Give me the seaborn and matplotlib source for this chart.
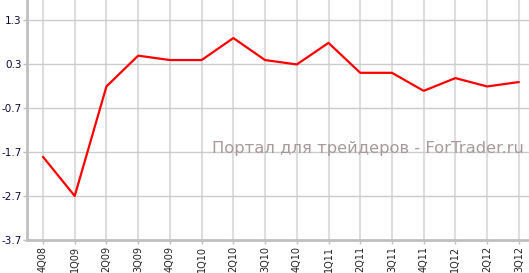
import matplotlib
matplotlib.use("Agg")
import matplotlib.pyplot as plt
import seaborn as sns
import pandas as pd

quarters = ["4Q08", "1Q09", "2Q09", "3Q09", "4Q09", "1Q10", "2Q10", "3Q10",
            "4Q10", "1Q11", "2Q11", "3Q11", "4Q11", "1Q12", "2Q12", "3Q12"]
values = [-1.81, -2.7, -0.21, 0.49, 0.39, 0.39, 0.89, 0.39,
          0.29, 0.78, 0.10, 0.10, -0.31, -0.02, -0.21, -0.11]
yticks = [-3.7, -2.7, -1.7, -0.7, 0.3, 1.3]
watermark = "Портал для трейдеров - ForTrader.ru"

sns.set_theme(style="white")
plt.rcParams['font.family'] = ['DejaVu Sans']

df = pd.DataFrame({"q": quarters, "v": values})
df["pos"] = range(len(quarters))

fig = plt.figure(figsize=(5.29, 2.73), dpi=100)
ax = fig.add_axes([27 / 529, 33 / 273, 502 / 529, 240 / 273])

sns.lineplot(data=df, x="pos", y="v", ax=ax, color="#ff0000", linewidth=1.6)

ax.set_xlim(-0.504, len(quarters) - 1 + 0.32)
ax.set_ylim(-3.7, 1.755)
ax.set_xticks(range(len(quarters)))
ax.set_xticklabels(quarters, rotation=90, fontsize=7, color="#222222")
ax.set_yticks(yticks)
ax.set_yticklabels([f"{t:.1f}" for t in yticks], fontsize=7.5, color="#0a0a3a")
ax.set_xlabel("")
ax.set_ylabel("")

for x in range(len(quarters)):
    ax.axvline(x, color="#dddddd", linewidth=1.5, zorder=0)
for y in yticks:
    ax.axhline(y, color="#cccccc", linewidth=1.0, zorder=0)

for s in ["top", "right"]:
    ax.spines[s].set_visible(False)
for s in ["left", "bottom"]:
    ax.spines[s].set_color("#c0c0c0")
    ax.spines[s].set_linewidth(2)

ax.tick_params(axis="both", which="both", length=3, width=1, color="#c0c0c0",
               pad=1, left=True, bottom=True)

ax.text(0.679, 0.383, watermark, transform=ax.transAxes, fontsize=11.8,
        color="#a89a9a", ha="center", va="center")

fig.savefig("out.png", dpi=100)
